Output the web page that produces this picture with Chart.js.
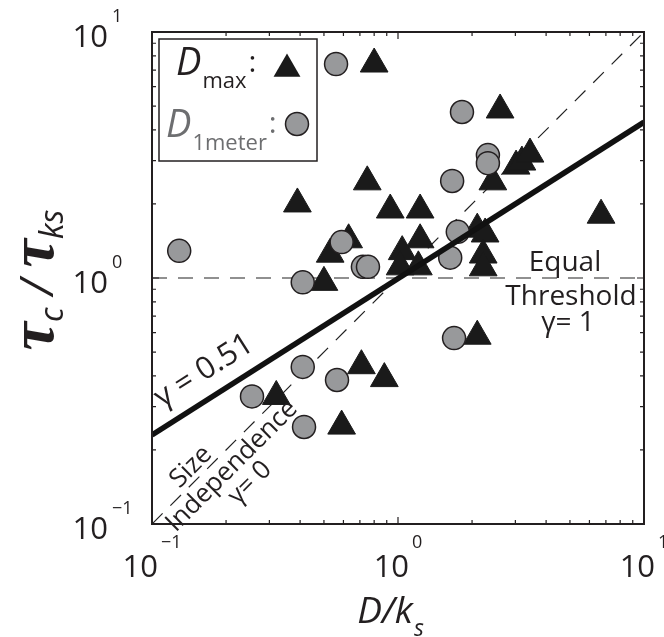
<!DOCTYPE html>
<html>
<head>
<meta charset="utf-8">
<script src="https://cdn.jsdelivr.net/npm/chart.js@4.4.1/dist/chart.umd.min.js"></script>
<style>
  html, body { margin: 0; padding: 0; background: #fff; }
  #wrap { position: relative; width: 664px; height: 637px; }
</style>
</head>
<body>
<div id="wrap"><canvas id="scatterChart" width="664" height="637"></canvas></div>
<script>
// D/ks vs tau_c/tau_ks, largest grain sizes (triangles)
const maxX = [0.80, 2.60, 0.75, 2.43, 3.02, 3.19, 3.44, 0.39, 0.93, 1.23, 6.69, 2.10, 2.26, 0.63, 1.23, 1.04, 0.53, 2.22, 1.02, 1.21, 2.22, 0.50, 2.10, 0.71, 0.88, 0.32, 0.59];
const maxY = [7.41, 4.82, 2.46, 2.46, 2.85, 2.96, 3.19, 2.00, 1.89, 1.89, 1.80, 1.58, 1.51, 1.43, 1.43, 1.28, 1.25, 1.24, 1.11, 1.11, 1.10, 0.96, 0.58, 0.44, 0.39, 0.33, 0.25];

// same ratios for the 1 m grain sizes (circles)
const meterX = [0.56, 1.82, 2.32, 2.32, 1.66, 0.129, 0.59, 0.72, 0.755, 1.75, 1.63, 0.41, 1.69, 0.41, 0.565, 0.255, 0.415];
const meterY = [7.41, 4.73, 3.16, 2.93, 2.48, 1.29, 1.40, 1.11, 1.11, 1.54, 1.21, 0.96, 0.57, 0.435, 0.385, 0.33, 0.248];

// power-law fit, gamma = 0.51
const fitX = [0.1, 10];
const fitY = [0.23, 4.3];

// reference lines: equal threshold (gamma = 1) and size independence (gamma = 0)
const equalX = [0.1, 10];
const equalY = [1, 1];
const indepX = [0.1, 10];
const indepY = [0.1, 10];

// axis decades
const tickValues = [0.1, 1, 10];
const tickExps = ['\u22121', '0', '1'];

const ink = '#231f20';
const grey = '#6d6e70';
const sans = '"Open Sans", "Noto Sans", sans-serif';

const toPoints = (xs, ys) => xs.map((v, i) => ({ x: v, y: ys[i] }));

function triangle(ctx, x, y, r) {
    ctx.beginPath();
    ctx.moveTo(x, y - r);
    ctx.lineTo(x + 0.866 * r, y + 0.5 * r);
    ctx.lineTo(x - 0.866 * r, y + 0.5 * r);
    ctx.closePath();
    ctx.fill();
}

// draws one run of text and returns where it ends
function piece(ctx, txt, x, y, font, color) {
    ctx.font = font;
    ctx.fillStyle = color;
    ctx.fillText(txt, x, y);
    return x + ctx.measureText(txt).width;
}

const framePlugin = {
    id: 'frame',
    afterDraw(chart) {
        const { ctx, chartArea: a, scales } = chart;
        const sx = scales.x, sy = scales.y;
        ctx.save();

        // axes box
        ctx.strokeStyle = ink;
        ctx.lineWidth = 2;
        ctx.strokeRect(a.left, a.top, a.right - a.left, a.bottom - a.top);

        // inward ticks on all four sides
        const minor = [];
        [0.1, 1].forEach(d => { for (let k = 2; k <= 9; k++) minor.push(k * d); });
        ctx.lineWidth = 1.2;
        const tick = (v, len) => {
            const px = sx.getPixelForValue(v), py = sy.getPixelForValue(v);
            ctx.beginPath();
            ctx.moveTo(px, a.bottom); ctx.lineTo(px, a.bottom - len);
            ctx.moveTo(px, a.top); ctx.lineTo(px, a.top + len);
            ctx.moveTo(a.left, py); ctx.lineTo(a.left + len, py);
            ctx.moveTo(a.right, py); ctx.lineTo(a.right - len, py);
            ctx.stroke();
        };
        minor.forEach(v => tick(v, 4));
        tickValues.forEach(v => tick(v, 7));

        // tick labels, 10 with superscript exponent
        ctx.textBaseline = 'alphabetic';
        ctx.textAlign = 'left';
        tickValues.forEach((v, i) => {
            ctx.font = '31px ' + sans;
            const wBase = ctx.measureText('10').width;
            ctx.font = '18px ' + sans;
            const wExp = ctx.measureText(tickExps[i]).width;
            // x axis
            const px = sx.getPixelForValue(v);
            const left = px - (wBase + 3 + wExp) / 2;
            piece(ctx, '10', left, a.bottom + 53, '31px ' + sans, ink);
            piece(ctx, tickExps[i], left + wBase + 3, a.bottom + 24, '18px ' + sans, ink);
            // y axis
            const py = sy.getPixelForValue(v);
            piece(ctx, '10', a.left - 44 - wBase, py + 15, '31px ' + sans, ink);
            piece(ctx, tickExps[i], a.left - 40, py - 10, '18px ' + sans, ink);
        });

        // x title D/k_s
        ctx.font = 'italic 37px ' + sans;
        const wD = ctx.measureText('D/k').width;
        ctx.font = 'italic 23px ' + sans;
        const wS = ctx.measureText('s').width;
        let xs0 = (a.left + a.right) / 2 - 8 - (wD + wS) / 2;
        xs0 = piece(ctx, 'D/k', xs0, 623, 'italic 37px ' + sans, ink);
        piece(ctx, 's', xs0 + 1, 636, 'italic 23px ' + sans, ink);

        // y title tau_c / tau_ks
        ctx.save();
        ctx.translate(53, (a.top + a.bottom) / 2 + 2);
        ctx.rotate(-Math.PI / 2);
        const tauFont = 'bold italic 64px "Liberation Serif", "DejaVu Serif", serif';
        const subFont = 'italic 32px ' + sans;
        const slashFont = 'italic 46px ' + sans;
        const parts = [
            ['\u03c4', tauFont, 0], ['c', subFont, 10], [' / ', slashFont, 0],
            ['\u03c4', tauFont, 0], ['ks', subFont, 10]
        ];
        let total = 0;
        parts.forEach(p => { ctx.font = p[1]; total += ctx.measureText(p[0]).width; });
        let cx = -total / 2;
        parts.forEach(p => { cx = piece(ctx, p[0], cx, p[2], p[1], ink); });
        ctx.restore();

        // legend box
        ctx.fillStyle = '#fff';
        ctx.fillRect(159, 39, 158, 122);
        ctx.strokeStyle = ink;
        ctx.lineWidth = 1.5;
        ctx.strokeRect(159, 39, 158, 122);
        let lx = piece(ctx, 'D', 176, 75, 'italic 38px ' + sans, ink);
        lx = piece(ctx, 'max', lx + 1, 88, '22px ' + sans, ink);
        piece(ctx, ':', lx + 2, 72, '30px ' + sans, ink);
        ctx.fillStyle = '#1a1a1a';
        triangle(ctx, 287, 69, 15.5);
        lx = piece(ctx, 'D', 166, 137, 'italic 38px ' + sans, grey);
        lx = piece(ctx, '1meter', lx + 1, 150, '22px ' + sans, grey);
        piece(ctx, ':', lx + 2, 133, '30px ' + sans, grey);
        ctx.beginPath();
        ctx.arc(297, 124, 11.5, 0, Math.PI * 2);
        ctx.fillStyle = '#98999b';
        ctx.fill();
        ctx.strokeStyle = ink;
        ctx.lineWidth = 1.5;
        ctx.stroke();

        // equal threshold note
        ctx.textAlign = 'center';
        ctx.fillStyle = ink;
        ctx.font = '28px ' + sans;
        ctx.fillText('Equal', 565, 271);
        ctx.fillText('Threshold', 571, 305);
        ctx.fillText('\u03b3= 1', 568, 331);

        // fit label along the solid line
        ctx.textBaseline = 'middle';
        ctx.save();
        ctx.translate(204, 371);
        ctx.rotate(-Math.atan(0.636));
        ctx.font = '31px ' + sans;
        ctx.fillText('\u03b3 = 0.51', 0, 0);
        ctx.restore();

        // size independence note along the diagonal
        [['Size', 191, 467], ['Independence', 232, 466], ['\u03b3= 0', 250, 483]].forEach(t => {
            ctx.save();
            ctx.translate(t[1], t[2]);
            ctx.rotate(-Math.PI / 4);
            ctx.font = '26px ' + sans;
            ctx.fillText(t[0], 0, 0);
            ctx.restore();
        });

        ctx.restore();
    }
};

const ctx = document.getElementById('scatterChart').getContext('2d');
const chart = new Chart(ctx, {
    type: 'scatter',
    data: {
        datasets: [
            {
                label: 'fit',
                data: toPoints(fitX, fitY),
                showLine: true,
                borderColor: '#111',
                borderWidth: 5.5,
                pointRadius: 0,
                order: 0
            },
            {
                label: 'D1meter',
                data: toPoints(meterX, meterY),
                pointStyle: 'circle',
                pointRadius: 11.5,
                backgroundColor: '#98999b',
                borderColor: ink,
                borderWidth: 1.5,
                order: 1
            },
            {
                label: 'Dmax',
                data: toPoints(maxX, maxY),
                pointStyle: 'triangle',
                pointRadius: 16,
                backgroundColor: '#1a1a1a',
                borderColor: '#1a1a1a',
                borderWidth: 1,
                order: 2
            },
            {
                label: 'equal threshold',
                data: toPoints(equalX, equalY),
                showLine: true,
                borderColor: '#222',
                borderWidth: 1.2,
                borderDash: [15, 11],
                pointRadius: 0,
                order: 3
            },
            {
                label: 'size independence',
                data: toPoints(indepX, indepY),
                showLine: true,
                borderColor: '#222',
                borderWidth: 1.2,
                borderDash: [15, 11],
                pointRadius: 0,
                order: 3
            }
        ]
    },
    options: {
        responsive: false,
        animation: false,
        devicePixelRatio: 1,
        layout: { padding: { left: 152, top: 32, right: 20, bottom: 113 } },
        plugins: {
            legend: { display: false },
            tooltip: { enabled: false }
        },
        scales: {
            x: { type: 'logarithmic', min: 0.1, max: 10, display: false },
            y: { type: 'logarithmic', min: 0.1, max: 10, display: false }
        }
    },
    plugins: [framePlugin]
});
</script>
</body>
</html>
